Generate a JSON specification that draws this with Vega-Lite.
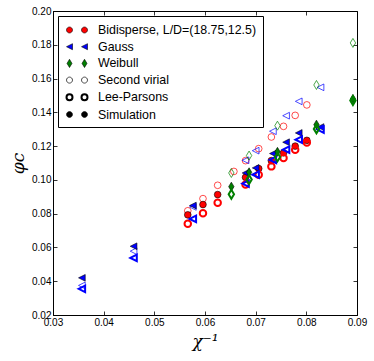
{
  "$schema": "https://vega.github.io/schema/vega-lite/v6.json",
  "width": 304,
  "height": 304,
  "autosize": "none",
  "padding": {"left": 53, "top": 11, "right": 17, "bottom": 46},
  "background": "white",
  "config": {
    "view": {"stroke": "black", "strokeWidth": 1},
    "axis": {
      "grid": false,
      "domainColor": "black",
      "domainWidth": 1,
      "tickColor": "black",
      "tickWidth": 0.8,
      "tickSize": -4,
      "labelFont": "Liberation Sans",
      "labelFontSize": 10,
      "labelColor": "black",
      "labelPadding": 6,
      "labelFlush": false,
      "labelOverlap": false,
      "titleFont": "DejaVu Serif",
      "titleFontStyle": "italic",
      "titleFontWeight": "normal",
      "titleFontSize": 17,
      "titleColor": "black"
    },
    "legend": {
      "orient": "top-left",
      "offset": 5,
      "padding": 6,
      "strokeColor": "black",
      "fillColor": "white",
      "cornerRadius": 0,
      "symbolSize": 225,
      "labelFont": "Liberation Sans",
      "labelFontSize": 12.4,
      "labelColor": "black",
      "labelOffset": 17,
      "rowPadding": 1.7,
      "labelLimit": 400
    }
  },
  "datasets": {
    "pts": [
      {"series": "Bidisperse Second virial", "x": 0.0566, "y": 0.0817},
      {"series": "Bidisperse Second virial", "x": 0.0596, "y": 0.0889},
      {"series": "Bidisperse Second virial", "x": 0.0625, "y": 0.0968},
      {"series": "Bidisperse Second virial", "x": 0.0657, "y": 0.1050},
      {"series": "Bidisperse Second virial", "x": 0.0680, "y": 0.1114},
      {"series": "Bidisperse Second virial", "x": 0.0706, "y": 0.1185},
      {"series": "Bidisperse Second virial", "x": 0.0731, "y": 0.1254},
      {"series": "Bidisperse Second virial", "x": 0.0755, "y": 0.1317},
      {"series": "Bidisperse Second virial", "x": 0.0778, "y": 0.1382},
      {"series": "Bidisperse Second virial", "x": 0.0801, "y": 0.1444},
      {"series": "Bidisperse Simulation", "x": 0.0566, "y": 0.0793},
      {"series": "Bidisperse Simulation", "x": 0.0596, "y": 0.0854},
      {"series": "Bidisperse Simulation", "x": 0.0625, "y": 0.0913},
      {"series": "Bidisperse Simulation", "x": 0.0680, "y": 0.1015},
      {"series": "Bidisperse Simulation", "x": 0.0706, "y": 0.1067},
      {"series": "Bidisperse Simulation", "x": 0.0731, "y": 0.1114},
      {"series": "Bidisperse Simulation", "x": 0.0755, "y": 0.1160},
      {"series": "Bidisperse Simulation", "x": 0.0778, "y": 0.1200},
      {"series": "Bidisperse Simulation", "x": 0.0801, "y": 0.1234},
      {"series": "Bidisperse Lee-Parsons", "x": 0.0566, "y": 0.0740},
      {"series": "Bidisperse Lee-Parsons", "x": 0.0596, "y": 0.0802},
      {"series": "Bidisperse Lee-Parsons", "x": 0.0625, "y": 0.0864},
      {"series": "Bidisperse Lee-Parsons", "x": 0.0680, "y": 0.0972},
      {"series": "Bidisperse Lee-Parsons", "x": 0.0706, "y": 0.1031},
      {"series": "Bidisperse Lee-Parsons", "x": 0.0731, "y": 0.1080},
      {"series": "Bidisperse Lee-Parsons", "x": 0.0755, "y": 0.1130},
      {"series": "Bidisperse Lee-Parsons", "x": 0.0778, "y": 0.1178},
      {"series": "Bidisperse Lee-Parsons", "x": 0.0801, "y": 0.1222},
      {"series": "Gauss Second virial", "x": 0.0357, "y": 0.0375},
      {"series": "Gauss Second virial", "x": 0.0459, "y": 0.0578},
      {"series": "Gauss Second virial", "x": 0.0576, "y": 0.0840},
      {"series": "Gauss Second virial", "x": 0.0680, "y": 0.1116},
      {"series": "Gauss Second virial", "x": 0.0700, "y": 0.1173},
      {"series": "Gauss Second virial", "x": 0.0734, "y": 0.1288},
      {"series": "Gauss Second virial", "x": 0.0760, "y": 0.1380},
      {"series": "Gauss Second virial", "x": 0.0785, "y": 0.1465},
      {"series": "Gauss Second virial", "x": 0.0828, "y": 0.1548},
      {"series": "Gauss Simulation", "x": 0.0357, "y": 0.0420},
      {"series": "Gauss Simulation", "x": 0.0459, "y": 0.0607},
      {"series": "Gauss Simulation", "x": 0.0576, "y": 0.0848},
      {"series": "Gauss Simulation", "x": 0.0680, "y": 0.1041},
      {"series": "Gauss Simulation", "x": 0.0700, "y": 0.1071},
      {"series": "Gauss Simulation", "x": 0.0734, "y": 0.1156},
      {"series": "Gauss Simulation", "x": 0.0760, "y": 0.1223},
      {"series": "Gauss Simulation", "x": 0.0785, "y": 0.1278},
      {"series": "Gauss Simulation", "x": 0.0828, "y": 0.1313},
      {"series": "Gauss Lee-Parsons", "x": 0.0357, "y": 0.0355},
      {"series": "Gauss Lee-Parsons", "x": 0.0459, "y": 0.0538},
      {"series": "Gauss Lee-Parsons", "x": 0.0576, "y": 0.0769},
      {"series": "Gauss Lee-Parsons", "x": 0.0680, "y": 0.0978},
      {"series": "Gauss Lee-Parsons", "x": 0.0700, "y": 0.1031},
      {"series": "Gauss Lee-Parsons", "x": 0.0734, "y": 0.1118},
      {"series": "Gauss Lee-Parsons", "x": 0.0760, "y": 0.1179},
      {"series": "Gauss Lee-Parsons", "x": 0.0785, "y": 0.1238},
      {"series": "Gauss Lee-Parsons", "x": 0.0828, "y": 0.1298},
      {"series": "Weibull Second virial", "x": 0.0652, "y": 0.1041},
      {"series": "Weibull Second virial", "x": 0.0687, "y": 0.1144},
      {"series": "Weibull Second virial", "x": 0.0743, "y": 0.1321},
      {"series": "Weibull Second virial", "x": 0.0820, "y": 0.1562},
      {"series": "Weibull Second virial", "x": 0.0892, "y": 0.1811},
      {"series": "Weibull Simulation", "x": 0.0652, "y": 0.0960},
      {"series": "Weibull Simulation", "x": 0.0687, "y": 0.1045},
      {"series": "Weibull Simulation", "x": 0.0743, "y": 0.1166},
      {"series": "Weibull Simulation", "x": 0.0820, "y": 0.1327},
      {"series": "Weibull Simulation", "x": 0.0892, "y": 0.1479},
      {"series": "Weibull Lee-Parsons", "x": 0.0652, "y": 0.0915},
      {"series": "Weibull Lee-Parsons", "x": 0.0687, "y": 0.1002},
      {"series": "Weibull Lee-Parsons", "x": 0.0743, "y": 0.1136},
      {"series": "Weibull Lee-Parsons", "x": 0.0820, "y": 0.1302},
      {"series": "Weibull Lee-Parsons", "x": 0.0892, "y": 0.1470}
    ],
    "legendRows": [
      {"label": "Bidisperse, L/D=(18.75,12.5)"},
      {"label": "Gauss"},
      {"label": "Weibull"},
      {"label": "Second virial"},
      {"label": "Lee-Parsons"},
      {"label": "Simulation"}
    ]
  },
  "layer": [
    {
      "data": {"name": "pts"},
      "mark": {"type": "point", "filled": true, "opacity": 1},
      "encoding": {
        "x": {
          "field": "x", "type": "quantitative",
          "scale": {"domain": [0.03, 0.09], "nice": false, "zero": false},
          "axis": {"values": [0.03, 0.04, 0.05, 0.06, 0.07, 0.08, 0.09], "format": ".2f", "title": "χ⁻¹", "titlePadding": 6}
        },
        "y": {
          "field": "y", "type": "quantitative",
          "scale": {"domain": [0.02, 0.20], "nice": false, "zero": false},
          "axis": {"values": [0.02, 0.04, 0.06, 0.08, 0.10, 0.12, 0.14, 0.16, 0.18, 0.20], "format": ".2f", "title": "φc", "titlePadding": 4}
        },
        "shape": {
          "field": "series", "type": "ordinal", "legend": null,
          "scale": {
            "type": "ordinal",
            "domain": ["Bidisperse Second virial", "Bidisperse Simulation", "Bidisperse Lee-Parsons", "Gauss Second virial", "Gauss Simulation", "Gauss Lee-Parsons", "Weibull Second virial", "Weibull Simulation", "Weibull Lee-Parsons"],
            "range": ["circle", "circle", "circle", "M-1,0L1,-1L1,1Z", "M-1,0L1,-1L1,1Z", "M-1,0L1,-1L1,1Z", "M0,-1L0.6,0L0,1L-0.6,0Z", "M0,-1L0.6,0L0,1L-0.6,0Z", "M0,-1L0.6,0L0,1L-0.6,0Z"]
          }
        },
        "fill": {
          "field": "series", "type": "ordinal", "legend": null,
          "scale": {
            "type": "ordinal",
            "domain": ["Bidisperse Second virial", "Bidisperse Simulation", "Bidisperse Lee-Parsons", "Gauss Second virial", "Gauss Simulation", "Gauss Lee-Parsons", "Weibull Second virial", "Weibull Simulation", "Weibull Lee-Parsons"],
            "range": ["transparent", "#ff0000", "transparent", "transparent", "#0000ff", "transparent", "transparent", "#008000", "transparent"]
          }
        },
        "stroke": {
          "field": "series", "type": "ordinal", "legend": null,
          "scale": {
            "type": "ordinal",
            "domain": ["Bidisperse Second virial", "Bidisperse Simulation", "Bidisperse Lee-Parsons", "Gauss Second virial", "Gauss Simulation", "Gauss Lee-Parsons", "Weibull Second virial", "Weibull Simulation", "Weibull Lee-Parsons"],
            "range": ["#ff0000", "#000000", "#ff0000", "#0000ff", "#000000", "#0000ff", "#008000", "#000000", "#008000"]
          }
        },
        "strokeWidth": {
          "field": "series", "type": "ordinal", "legend": null,
          "scale": {
            "type": "ordinal",
            "domain": ["Bidisperse Second virial", "Bidisperse Simulation", "Bidisperse Lee-Parsons", "Gauss Second virial", "Gauss Simulation", "Gauss Lee-Parsons", "Weibull Second virial", "Weibull Simulation", "Weibull Lee-Parsons"],
            "range": [0.7, 0.6, 2, 0.7, 0.6, 2, 0.7, 0.6, 2]
          }
        },
        "size": {
          "field": "series", "type": "ordinal", "legend": null,
          "scale": {
            "type": "ordinal",
            "domain": ["Bidisperse Second virial", "Bidisperse Simulation", "Bidisperse Lee-Parsons", "Gauss Second virial", "Gauss Simulation", "Gauss Lee-Parsons", "Weibull Second virial", "Weibull Simulation", "Weibull Lee-Parsons"],
            "range": [45, 45, 42, 45, 45, 42, 81, 81, 81]
          }
        }
      }
    },
    {
      "data": {"name": "legendRows"},
      "transform": [{"filter": "false"}],
      "mark": {"type": "point", "filled": true, "opacity": 1, "size": 225},
      "encoding": {
        "shape": {
          "field": "label", "type": "ordinal", "title": null,
          "scale": {
            "type": "ordinal",
            "domain": ["Bidisperse, L/D=(18.75,12.5)", "Gauss", "Weibull", "Second virial", "Lee-Parsons", "Simulation"],
            "range": [
              "M0,0C0,0.221 -0.179,0.4 -0.4,0.4C-0.621,0.4 -0.8,0.221 -0.8,0C-0.8,-0.221 -0.621,-0.4 -0.4,-0.4C-0.179,-0.4 0,-0.221 0,0ZM2,0C2,0.221 1.821,0.4 1.6,0.4C1.379,0.4 1.2,0.221 1.2,0C1.2,-0.221 1.379,-0.4 1.6,-0.4C1.821,-0.4 2,-0.221 2,0Z",
              "M-0.8,0L0,-0.4L0,0.4ZM1.2,0L2,-0.4L2,0.4Z",
              "M-0.4,-0.55L-0.07,0L-0.4,0.55L-0.73,0ZM1.6,-0.55L1.93,0L1.6,0.55L1.27,0Z",
              "M0,0C0,0.221 -0.179,0.4 -0.4,0.4C-0.621,0.4 -0.8,0.221 -0.8,0C-0.8,-0.221 -0.621,-0.4 -0.4,-0.4C-0.179,-0.4 0,-0.221 0,0ZM2,0C2,0.221 1.821,0.4 1.6,0.4C1.379,0.4 1.2,0.221 1.2,0C1.2,-0.221 1.379,-0.4 1.6,-0.4C1.821,-0.4 2,-0.221 2,0Z",
              "M0,0C0,0.221 -0.179,0.4 -0.4,0.4C-0.621,0.4 -0.8,0.221 -0.8,0C-0.8,-0.221 -0.621,-0.4 -0.4,-0.4C-0.179,-0.4 0,-0.221 0,0ZM2,0C2,0.221 1.821,0.4 1.6,0.4C1.379,0.4 1.2,0.221 1.2,0C1.2,-0.221 1.379,-0.4 1.6,-0.4C1.821,-0.4 2,-0.221 2,0Z",
              "M0,0C0,0.221 -0.179,0.4 -0.4,0.4C-0.621,0.4 -0.8,0.221 -0.8,0C-0.8,-0.221 -0.621,-0.4 -0.4,-0.4C-0.179,-0.4 0,-0.221 0,0ZM2,0C2,0.221 1.821,0.4 1.6,0.4C1.379,0.4 1.2,0.221 1.2,0C1.2,-0.221 1.379,-0.4 1.6,-0.4C1.821,-0.4 2,-0.221 2,0Z"
            ]
          }
        },
        "fill": {
          "field": "label", "type": "ordinal", "title": null,
          "scale": {
            "type": "ordinal",
            "domain": ["Bidisperse, L/D=(18.75,12.5)", "Gauss", "Weibull", "Second virial", "Lee-Parsons", "Simulation"],
            "range": ["#ff0000", "#0000ff", "#008000", "transparent", "transparent", "#000000"]
          }
        },
        "stroke": {
          "field": "label", "type": "ordinal", "title": null,
          "scale": {
            "type": "ordinal",
            "domain": ["Bidisperse, L/D=(18.75,12.5)", "Gauss", "Weibull", "Second virial", "Lee-Parsons", "Simulation"],
            "range": ["#000000", "#000000", "#000000", "#000000", "#000000", "#000000"]
          }
        },
        "strokeWidth": {
          "field": "label", "type": "ordinal", "title": null,
          "scale": {
            "type": "ordinal",
            "domain": ["Bidisperse, L/D=(18.75,12.5)", "Gauss", "Weibull", "Second virial", "Lee-Parsons", "Simulation"],
            "range": [0.6, 0.6, 0.6, 0.7, 2, 0.6]
          }
        }
      }
    },
    {
      "data": {"name": "pts"},
      "mark": {"type": "point", "opacity": 0},
      "encoding": {
        "x": {
          "field": "x", "type": "quantitative",
          "axis": {"orient": "top", "values": [0.03, 0.04, 0.05, 0.06, 0.07, 0.08, 0.09], "labels": false, "title": null, "domain": false}
        },
        "y": {
          "field": "y", "type": "quantitative",
          "axis": {"orient": "right", "values": [0.02, 0.04, 0.06, 0.08, 0.10, 0.12, 0.14, 0.16, 0.18, 0.20], "labels": false, "title": null, "domain": false}
        }
      }
    }
  ],
  "resolve": {
    "scale": {"shape": "independent", "fill": "independent", "stroke": "independent", "strokeWidth": "independent", "size": "independent"},
    "axis": {"x": "independent", "y": "independent"}
  }
}
